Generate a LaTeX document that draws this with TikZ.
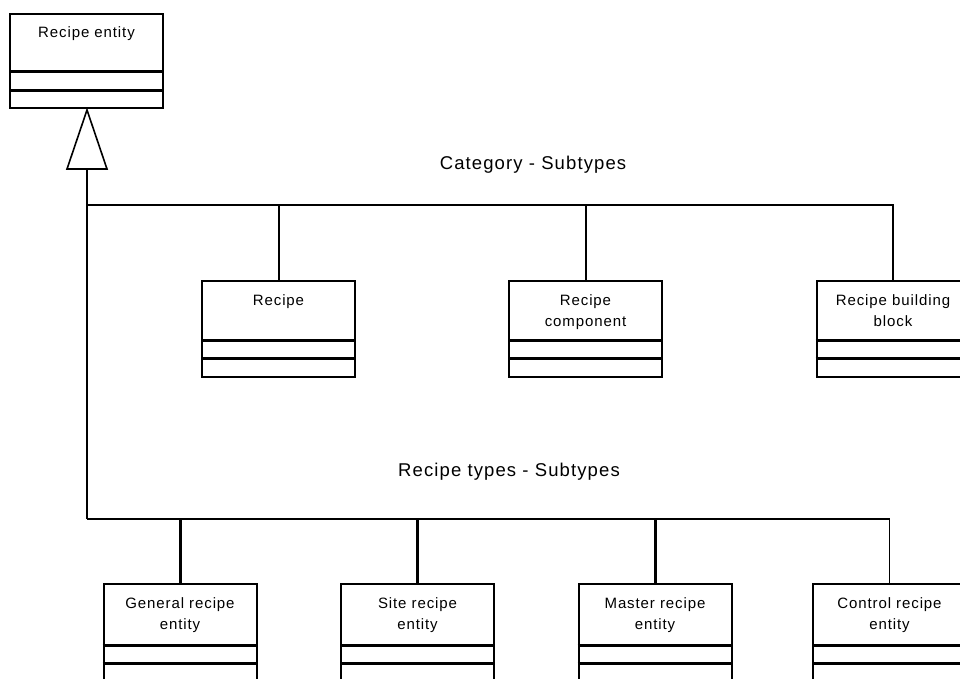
\documentclass[tikz,border=0pt]{standalone}
\usepackage{fontspec}
\setmainfont{Liberation Sans}
\newfontfamily\clsfamily[LetterSpace=6]{Liberation Sans}
\newfontfamily\grpfamily[LetterSpace=6]{Liberation Sans}
\newcommand{\clsfont}{\clsfamily\fontsize{15}{21}\selectfont}
\newcommand{\grpfont}{\grpfamily\fontsize{18.5}{22}\selectfont}
\usetikzlibrary{calc}
\begin{document}
\begin{tikzpicture}[x=1pt,y=-1pt,
  cls/.style={draw, line width=2pt, minimum width=153pt, anchor=north, inner sep=0pt},
  clsA/.style={cls, minimum height=94pt},
  clsB/.style={cls, minimum height=96pt},
  clsC/.style={cls, minimum height=98pt},
  clsname/.style={anchor=north, align=center, font=\clsfont, inner sep=0pt},
  grplabel/.style={font=\grpfont, inner sep=0pt},
  comp/.style={line width=3pt},
  bus/.style={line width=2.2pt},
  leg/.style={line width=2pt},
  thinleg/.style={line width=1pt},
  gen/.style={line width=1.6pt, fill=white, line join=miter}
]
\useasboundingbox (0,0) rectangle (960,678);
\clip (0,0) rectangle (960,678);
\fill[white] (0,0) rectangle (960,678);

% supertype
\node[clsA] (entity) at (86.5,13) {};
\node[clsname] (entityname) at ([yshift=-13.5pt]entity.north) {Recipe entity};
\draw[comp] ([yshift=-58pt]entity.north west) -- ([yshift=-58pt]entity.north east);
\draw[comp] ([yshift=-77pt]entity.north west) -- ([yshift=-77pt]entity.north east);

% category subtypes
\node[clsB] (recipe) at (278.5,280) {};
\node[clsname] (recipename) at ([yshift=-14pt]recipe.north) {Recipe};
\node[clsB] (component) at (585.5,280) {};
\node[clsname] (componentname) at ([yshift=-14pt]component.north) {Recipe\\component};
\node[clsB] (block) at (893,280) {};
\node[clsname] (blockname) at ([yshift=-14pt]block.north) {Recipe building\\block};
\foreach \b in {recipe,component,block}{
  \draw[comp] ([yshift=-60pt]\b.north west) -- ([yshift=-60pt]\b.north east);
  \draw[comp] ([yshift=-78pt]\b.north west) -- ([yshift=-78pt]\b.north east);
}

% recipe type subtypes
\node[clsC] (general) at (180,583) {};
\node[clsname] (generalname) at ([yshift=-14pt]general.north) {General recipe\\entity};
\node[clsC] (site) at (417.5,583) {};
\node[clsname] (sitename) at ([yshift=-14pt]site.north) {Site recipe\\entity};
\node[clsC] (master) at (655,583) {};
\node[clsname] (mastername) at ([yshift=-14pt]master.north) {Master recipe\\entity};
\node[clsC] (control) at (889.5,583) {};
\node[clsname] (controlname) at ([yshift=-14pt]control.north) {Control recipe\\entity};
\foreach \b in {general,site,master,control}{
  \draw[comp] ([yshift=-62pt]\b.north west) -- ([yshift=-62pt]\b.north east);
  \draw[comp] ([yshift=-80pt]\b.north west) -- ([yshift=-80pt]\b.north east);
}

% group labels
\node[grplabel] (catlabel) at (533,165) {Category - Subtypes};
\node[grplabel] (typelabel) at (509,472) {Recipe types - Subtypes};

% generalisation triangle and trunk
\coordinate (apex) at ([xshift=0.5pt,yshift=-1pt]entity.south);
\coordinate (tribase) at ($(apex)+(0,59)$);
\coordinate (j1) at ($(apex)+(0,95)$);
\coordinate (j2) at ($(apex)+(0,409)$);
\draw[leg] (tribase) -- (j2);
\draw[gen] (apex) -- ++(-20,59) -- ++(40,0) -- cycle;

% category bus
\draw[bus] (j1) -- (j1 -| block.north) -- (block.north);
\draw[leg] (j1 -| recipe.north) -- (recipe.north);
\draw[leg] (j1 -| component.north) -- (component.north);

% recipe type bus
\draw[bus] (j2) -- (j2 -| control.north);
\draw[comp] (j2 -| general.north) -- (general.north);
\draw[comp] (j2 -| site.north) -- (site.north);
\draw[comp] (j2 -| master.north) -- (master.north);
\draw[thinleg] (j2 -| control.north) -- (control.north);
\end{tikzpicture}
\end{document}
